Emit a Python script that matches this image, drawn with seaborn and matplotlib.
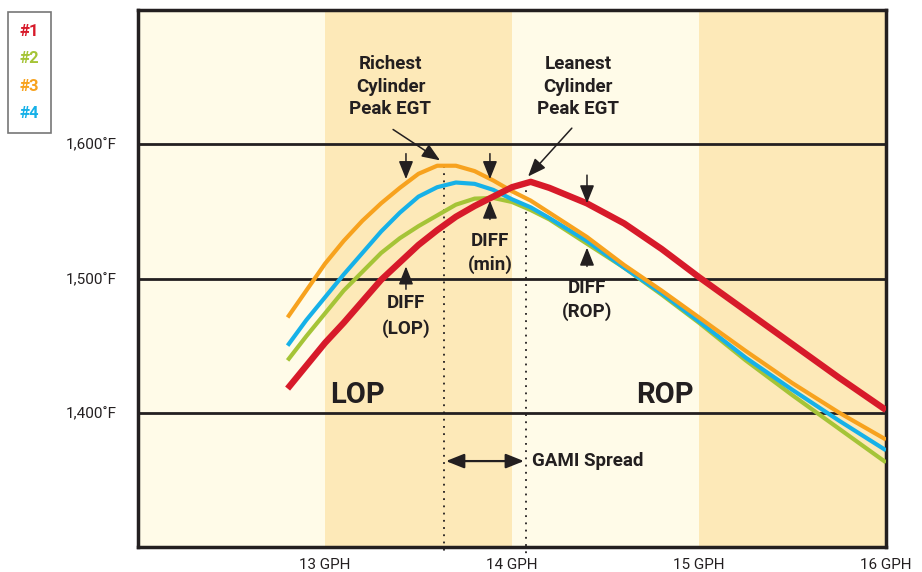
import seaborn as sns
import matplotlib.pyplot as plt
import pandas as pd
from matplotlib.lines import Line2D

# fuel flow (GPH) and EGT readings for each cylinder
gph = [12.8, 12.9, 13.0, 13.1, 13.2, 13.3, 13.4, 13.5, 13.6, 13.7, 13.8, 13.9,
       14.0, 14.1, 14.2, 14.4, 14.6, 14.8, 15.0, 15.25, 15.5, 15.75, 16.0]
egt_1 = [1418, 1435, 1452, 1467, 1483, 1499, 1512, 1525, 1536, 1546, 1554, 1561,
         1568, 1572, 1567.5, 1556, 1541, 1522, 1501, 1476, 1451, 1426, 1402]
egt_2 = [1439, 1457, 1474, 1491, 1505, 1519, 1530, 1539, 1547, 1555, 1559.5, 1560,
         1557, 1551, 1544, 1526, 1508, 1488, 1467, 1439, 1413, 1388, 1363]
egt_3 = [1471, 1491, 1511, 1528, 1543, 1556, 1567.5, 1578, 1584, 1584, 1580, 1573,
         1565, 1558, 1549, 1531, 1510, 1491, 1471, 1446, 1422, 1400, 1380]
egt_4 = [1450, 1469, 1486, 1503, 1519, 1535, 1549, 1561, 1568, 1571.5, 1570.5, 1566,
         1559, 1553, 1545, 1528, 1508, 1489, 1468, 1441, 1417, 1394, 1372]

cylinders = ['#1', '#2', '#3', '#4']
colours = ['#D71A2A', '#A5C437', '#F7A21E', '#16B1E8']
widths = [4.6, 3.0, 3.0, 3.0]

x_ticks = [13, 14, 15, 16]
x_labels = ['13 GPH', '14 GPH', '15 GPH', '16 GPH']
y_ticks = [1400, 1500, 1600]
y_labels = ['1,400˚F', '1,500˚F', '1,600˚F']

richest_peak = 13.634
leanest_peak = 14.075

ink = '#231F20'

df = pd.concat([pd.DataFrame({'gph': gph, 'egt': e, 'cyl': c})
                for e, c in zip([egt_1, egt_2, egt_3, egt_4], cylinders)])

sns.set_style("white")
plt.rcParams['font.family'] = ['Roboto', 'DejaVu Sans']

fig = plt.figure(figsize=(9.22, 5.72), dpi=100)
ax = fig.add_axes([138/922, 25/572, 748/922, 537/572])
ax.set_facecolor('#FFFBE8')

# shaded bands
ax.axvspan(13, 14, color='#FDE9B8', zorder=0, lw=0)
ax.axvspan(15, 16, color='#FDE9B8', zorder=0, lw=0)

for t in y_ticks:
    ax.axhline(t, color=ink, lw=2, zorder=1)

# draw red last so it sits over the others, like the original
order = ['#2', '#4', '#3', '#1']
for c in order:
    i = cylinders.index(c)
    sns.lineplot(data=df[df.cyl == c], x='gph', y='egt', color=colours[i],
                 lw=widths[i], ax=ax, zorder=3, sort=False,
                 solid_joinstyle='round', solid_capstyle='butt')

ax.set_xlim(12, 16)
ax.set_ylim(1300, 1700)
ax.set_xticks(x_ticks)
ax.set_xticklabels(x_labels, fontsize=11, color=ink)
ax.set_yticks(y_ticks)
ax.set_yticklabels(y_labels, fontsize=11, color=ink)
ax.tick_params(axis='x', length=0, pad=8)
ax.tick_params(axis='y', length=10, width=2, color=ink, pad=5)
ax.set_xlabel('')
ax.set_ylabel('')
for s in ax.spines.values():
    s.set_linewidth(2.5)
    s.set_color(ink)

# dotted peak markers
ax.plot([richest_peak, richest_peak], [1584, 1295], ls=(0, (1, 3)), color=ink,
        lw=1.3, clip_on=False, zorder=2)
ax.plot([leanest_peak, leanest_peak], [1571, 1295], ls=(0, (1, 3)), color=ink,
        lw=1.3, clip_on=False, zorder=2)

bold = dict(fontsize=13.5, fontweight='bold', color=ink, ha='center', va='center')
ax.text(13.35, 1643, 'Richest\nCylinder\nPeak EGT', linespacing=1.3, **bold)
ax.text(14.353, 1643, 'Leanest\nCylinder\nPeak EGT', linespacing=1.3, **bold)
ax.text(13.433, 1472, 'DIFF\n(LOP)', linespacing=1.5, **bold)
ax.text(13.882, 1519, 'DIFF\n(min)', linespacing=1.35, **bold)
ax.text(14.401, 1484, 'DIFF\n(ROP)', linespacing=1.35, **bold)
ax.text(13.176, 1413, 'LOP', fontsize=21, fontweight='bold', color=ink,
        ha='center', va='center')
ax.text(14.818, 1413, 'ROP', fontsize=21, fontweight='bold', color=ink,
        ha='center', va='center')

arrow = dict(arrowstyle='-|>,head_length=0.55,head_width=0.22', color=ink, lw=1.1,
             mutation_scale=20, shrinkA=0, shrinkB=0)
ax.annotate('', xy=(13.615, 1588), xytext=(13.364, 1611), arrowprops=arrow)
ax.annotate('', xy=(14.086, 1576), xytext=(14.32, 1612), arrowprops=arrow)
for x, y0, y1 in [(13.433, 1593, 1574), (13.433, 1492, 1509),
                  (13.882, 1593, 1574), (13.882, 1544, 1558),
                  (14.401, 1577, 1556), (14.401, 1509, 1523)]:
    ax.annotate('', xy=(x, y1), xytext=(x, y0), arrowprops=arrow)

ax.annotate('', xy=(13.647, 1364), xytext=(14.064, 1364),
            arrowprops=dict(arrowstyle='<|-|>,head_length=0.55,head_width=0.22',
                            color=ink, lw=1.6, mutation_scale=20,
                            shrinkA=0, shrinkB=0))
ax.text(14.107, 1364, 'GAMI Spread', fontsize=13.5, fontweight='bold', color=ink,
        ha='left', va='center')

# legend made of coloured labels only
handles = [Line2D([], [], color=c, lw=0) for c in colours]
leg = fig.legend(handles, cylinders, loc='upper left',
                 bbox_to_anchor=(8/922, 1 - 12/572), borderaxespad=0,
                 handlelength=0, handletextpad=0, labelcolor=colours,
                 frameon=True, fancybox=False, edgecolor='#555555',
                 borderpad=0.7, labelspacing=0.75,
                 prop={'weight': 'bold', 'size': 12})
leg.get_frame().set_linewidth(1.2)

fig.savefig('out.png', dpi=100, facecolor='white')
